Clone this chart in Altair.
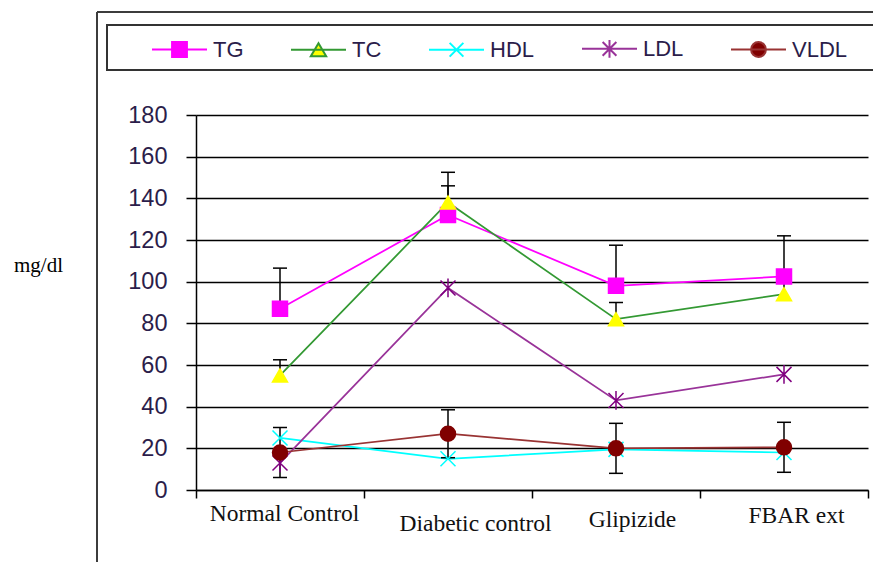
import altair as alt
import pandas as pd

# ---------------- data ----------------
categories = ["Normal Control", "Diabetic control", "Glipizide", "FBAR ext"]
series_names = ["TG", "TC", "HDL", "LDL", "VLDL"]

tg = [87, 132, 98, 102.5]
tc = [55, 138, 82, 94]
hdl = [25, 15, 19.5, 18]
ldl = [13, 97, 43, 55.5]
vldl = [18, 27, 20, 20.5]

tg_err = [19.5, 20.5, 19.5, 19.5]
tc_err = [7.5, 8, 8, 8]
vldl_err = [12, 11.5, 12, 12]

y_ticks = [0, 20, 40, 60, 80, 100, 120, 140, 160, 180]

# ---------------- styles ----------------
line_colors = ["#ff00ff", "#339933", "#00ffff", "#993399", "#993333"]
marker_fill = ["#ff00ff", "#ffff00", "transparent", "transparent", "#800000"]
marker_stroke = ["#ff00ff", "#ffff00", "#00ffff", "#800080", "#800000"]
marker_shapes = [
    "square",
    "triangle-up",
    "M-1,-1L1,1M-1,1L1,-1",
    "M-1,-1L1,1M-1,1L1,-1M0,-1.25V1.25",
    "circle",
]
legend_shapes = [
    "M-1,0H1M-0.27,-0.27H0.27V0.27H-0.27Z",
    "M-1,0H1M0,-0.24L0.28,0.24L-0.28,0.24Z",
    "M-1,0H1M-0.25,-0.25L0.25,0.25M-0.25,0.25L0.25,-0.25",
    "M-1,0H1M-0.25,-0.25L0.25,0.25M-0.25,0.25L0.25,-0.25M0,-0.32V0.32",
    "M-1,0H1M0.27,0A0.27,0.27,0,1,1,-0.27,0A0.27,0.27,0,1,1,0.27,0Z",
]
label_color = "#2b1d4a"

# ---------------- tables ----------------
values = {"TG": tg, "TC": tc, "HDL": hdl, "LDL": ldl, "VLDL": vldl}
rows = []
for s in series_names:
    for i, c in enumerate(categories):
        rows.append({"cat": c, "idx": i, "series": s, "value": values[s][i]})
df = pd.DataFrame(rows)

err_rows = []
cap_rows = []
for i, c in enumerate(categories):
    for s, v, e, both in [("TG", tg[i], tg_err[i], False),
                          ("TC", tc[i], tc_err[i], False),
                          ("VLDL", vldl[i], vldl_err[i], True)]:
        lo = v - e if both else v
        hi = v + e
        err_rows.append({"cat": c, "series": s, "lo": lo, "hi": hi})
        cap_rows.append({"cat": c, "series": s, "cap": hi})
        if both:
            cap_rows.append({"cat": c, "series": s, "cap": lo})
err_df = pd.DataFrame(err_rows)
cap_df = pd.DataFrame(cap_rows)
frame_df = pd.DataFrame({"k": [0]})

# ---------------- axes / encodings ----------------
x_axis = alt.Axis(
    labelAngle=0,
    tickBand="extent",
    domainColor="black",
    domainWidth=1.5,
    tickColor="black",
    tickSize=8,
    tickWidth=1.5,
    grid=False,
    labelFont="Liberation Serif",
    labelFontSize=23.5,
    labelColor="#111111",
    labelBaseline="alphabetic",
    labelOverlap=False,
    labelLimit=400,
    labelPadding={
        "condition": [
            {"test": "datum.label == 'Diabetic control'", "value": 32},
            {"test": "datum.label == 'Glipizide'", "value": 28},
            {"test": "datum.label == 'FBAR ext'", "value": 24},
        ],
        "value": 22,
    },
    labelOffset={
        "condition": [
            {"test": "datum.label == 'Diabetic control'", "value": 27},
            {"test": "datum.label == 'Glipizide'", "value": 16},
            {"test": "datum.label == 'FBAR ext'", "value": 12},
        ],
        "value": 4,
    },
)

y_axis = alt.Axis(
    values=y_ticks,
    grid=True,
    gridColor="black",
    gridWidth=1.5,
    domainColor="black",
    domainWidth=1.5,
    tickColor="black",
    tickSize=10,
    tickWidth=1.5,
    labelFont="Liberation Sans",
    labelFontSize=23.5,
    labelColor=label_color,
    labelPadding=19,
    titleAngle=0,
    titleX=-158,
    titleY=156,
    titleAlign="center",
    titleBaseline="alphabetic",
    titleFont="Liberation Serif",
    titleFontSize=21,
    titleFontWeight="normal",
    titleColor="black",
)

x_scale = alt.Scale(domain=categories, paddingInner=0, paddingOuter=0)
y_scale = alt.Scale(domain=[0, 180], nice=False, zero=True)


def X():
    return alt.X("cat:N", sort=categories, scale=x_scale, axis=x_axis, title=None)


# ---------------- layers ----------------
lines = alt.Chart(df).mark_line(strokeWidth=1.75).encode(
    x=X(),
    y=alt.Y("value:Q", scale=y_scale, axis=y_axis, title="mg/dl"),
    stroke=alt.Stroke("series:N", scale=alt.Scale(domain=series_names, range=line_colors), legend=None),
    order=alt.Order("idx:Q"),
)

err_bars = alt.Chart(err_df).mark_rule(color="black", strokeWidth=1.5).encode(
    x=X(),
    y=alt.Y("lo:Q", scale=y_scale, axis=y_axis, title="mg/dl"),
    y2="hi:Q",
)

caps = alt.Chart(cap_df).mark_tick(color="black", size=14, thickness=1.5, opacity=1).encode(
    x=X(),
    y=alt.Y("cap:Q", scale=y_scale, axis=y_axis, title="mg/dl"),
)

points = alt.Chart(df).mark_point(filled=True, size=225, opacity=1, strokeWidth=1.5).encode(
    x=X(),
    y=alt.Y("value:Q", scale=y_scale, axis=y_axis, title="mg/dl"),
    fill=alt.Fill("series:N", scale=alt.Scale(domain=series_names, range=marker_fill), legend=None),
    stroke=alt.Stroke("series:N", scale=alt.Scale(domain=series_names, range=marker_stroke), legend=None),
    shape=alt.Shape("series:N", scale=alt.Scale(domain=series_names, range=marker_shapes), legend=None),
)

leg = alt.Legend(
    orient="none",
    legendX=-45,
    legendY=-95,
    direction="horizontal",
    title=None,
    labelFont="Liberation Sans",
    labelFontSize=22,
    labelColor=label_color,
    labelOffset=5,
    columnPadding=43,
    padding=0,
    symbolSize=3025,
    symbolStrokeWidth=2,
    symbolOpacity=1,
)

legend_layer = alt.Chart(df).transform_filter("false").mark_point(filled=True, opacity=1).encode(
    color=alt.Color("series:N", scale=alt.Scale(domain=series_names, range=marker_fill), legend=leg),
    stroke=alt.Stroke("series:N", scale=alt.Scale(domain=series_names, range=line_colors), legend=leg),
    shape=alt.Shape("series:N", scale=alt.Scale(domain=series_names, range=legend_shapes), legend=leg),
)

frame_left = alt.Chart(frame_df).mark_rule(color="#3c3c3c", strokeWidth=2).encode(
    x=alt.value(-99), y=alt.value(-103), y2=alt.value(447)
)
frame_top = alt.Chart(frame_df).mark_rule(color="#3c3c3c", strokeWidth=2).encode(
    x=alt.value(-99), x2=alt.value(677), y=alt.value(-103)
)
legend_box = alt.Chart(frame_df).mark_rect(fill="white", fillOpacity=0, stroke="#333333", strokeWidth=2).encode(
    x=alt.value(-89), x2=alt.value(720), y=alt.value(-90), y2=alt.value(-45)
)

chart = (
    alt.layer(frame_left, frame_top, legend_box, lines, err_bars, caps, points, legend_layer)
    .resolve_scale(stroke="independent", fill="independent", shape="independent", color="independent")
    .properties(
        width=672,
        height=375,
        padding={"left": 188, "top": 107, "right": 5, "bottom": 72},
        autosize=alt.AutoSizeParams(type="none"),
        background="white",
    )
    .configure_view(stroke="transparent")
)

chart.save("out.html", embed_options={"renderer": "svg", "actions": False})
